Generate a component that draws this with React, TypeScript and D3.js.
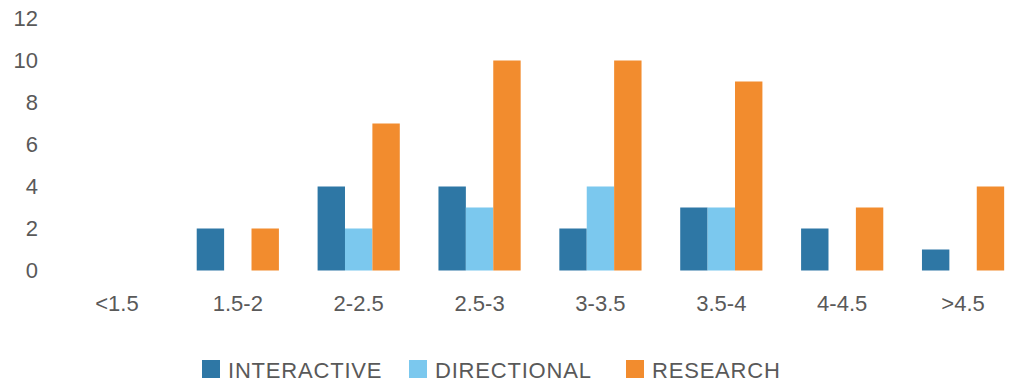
import React from "react";
import * as d3 from "d3";

const categories = ["<1.5", "1.5-2", "2-2.5", "2.5-3", "3-3.5", "3.5-4", "4-4.5", ">4.5"];
const seriesNames = ["INTERACTIVE", "DIRECTIONAL", "RESEARCH"];
const interactive = [0, 2, 4, 4, 2, 3, 2, 1];
const directional = [0, 0, 2, 3, 4, 3, 0, 0];
const research = [0, 2, 7, 10, 10, 9, 3, 4];
const yTicks = [0, 2, 4, 6, 8, 10, 12];
const colors = ["#2E77A5", "#7BC8EE", "#F28C2E"];

const W = 1012;
const H = 383;
const FONT = "'Liberation Sans', Arial, Helvetica, sans-serif";
const TEXT = "#595959";

export default function App() {
  const series = [interactive, directional, research];
  const x = d3.scaleBand<string>().domain(categories).range([56.5, 1023.5]).paddingInner(0).paddingOuter(0);
  const bw = x.bandwidth();
  const inner = d3.scaleBand<number>().domain([0, 1, 2]).range([bw * 0.16, bw * 0.84]).padding(0);
  const y = d3.scaleLinear().domain([0, 12]).range([270.5, 18.5]);

  return (
    <svg width={W} height={H} style={{ position: "absolute", left: 0, top: 0 }}>
      <rect width={W} height={H} fill="#fff" />
      {yTicks.map((t) => (
        <text key={t} x={38} y={y(t)} dy="0.35em" textAnchor="end" fontFamily={FONT} fontSize={22} fill={TEXT}>
          {t}
        </text>
      ))}
      {categories.map((c, i) => (
        <g key={c}>
          {series.map((s, j) =>
            s[i] > 0 ? (
              <rect
                key={j}
                x={(x(c) as number) + (inner(j) as number)}
                y={y(s[i])}
                width={inner.bandwidth()}
                height={y(0) - y(s[i])}
                fill={colors[j]}
              />
            ) : null
          )}
          <text
            x={(x(c) as number) + bw / 2}
            y={303}
            dy="0.35em"
            textAnchor="middle"
            fontFamily={FONT}
            fontSize={22}
            fill={TEXT}
          >
            {c}
          </text>
        </g>
      ))}
      {seriesNames.map((n, j) => {
        const lx = [202, 409, 626][j];
        return (
          <g key={n}>
            <rect x={lx} y={360} width={18} height={18} fill={colors[j]} />
            <text x={lx + 26} y={370} dy="0.35em" fontFamily={FONT} fontSize={22} letterSpacing={0.8} fill={TEXT}>
              {n}
            </text>
          </g>
        );
      })}
    </svg>
  );
}
